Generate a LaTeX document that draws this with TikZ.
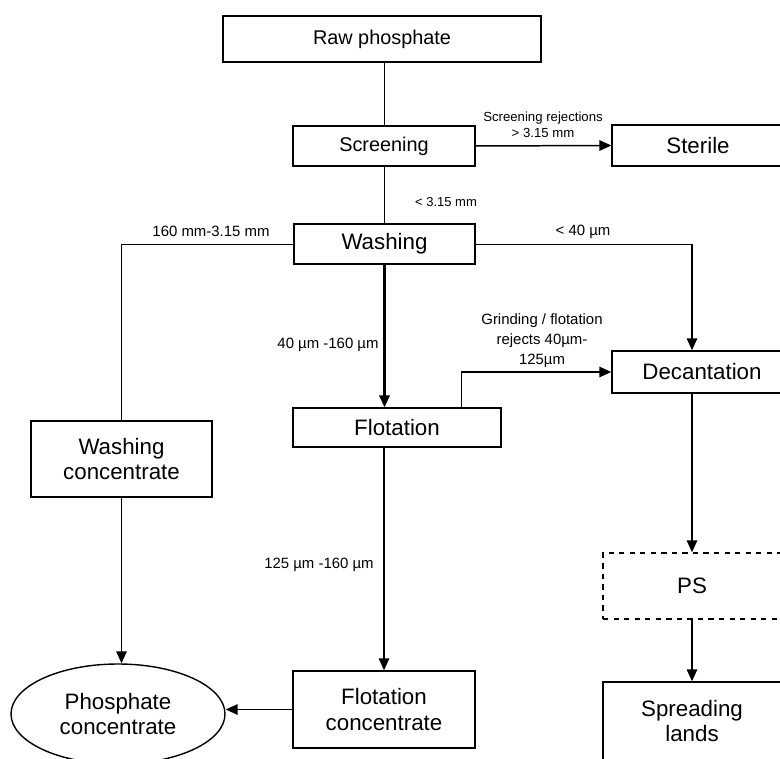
\documentclass[tikz,border=0pt]{standalone}
\usepackage{fontspec}
\setmainfont{Liberation Sans}
\usetikzlibrary{arrows.meta,shapes.geometric}
\begin{document}
\begin{tikzpicture}[
          b/.style={draw,line width=0.8pt,inner sep=0pt,align=center,font=\fontsize{12.7}{14.5}\selectfont},
          ln/.style={line width=0.5pt},
          arr/.style={-{Triangle[length=0.24cm,width=0.21cm]},line width=0.85pt},
          lab/.style={inner sep=0pt,align=center,font=\fontsize{8.5}{11.3}\selectfont}
          ]
          \clip (0,0) rectangle (15.6,15.16);
          \node[b,minimum width=6.36cm,minimum height=0.92cm,font=\fontsize{11.3}{13}\selectfont] (raw) at (7.64,14.38) {Raw phosphate};
          \node[b,minimum width=3.64cm,minimum height=0.8cm,font=\fontsize{11.3}{13}\selectfont] (scr) at (7.68,12.24) {Screening};
          \node[b,minimum width=3.44cm,minimum height=0.82cm] (ster) at (13.96,12.25) {Sterile};
          \node[b,minimum width=3.62cm,minimum height=0.8cm] (wash) at (7.69,10.28) {Washing};
          \node[b,minimum width=4.16cm,minimum height=0.78cm] (flot) at (7.94,6.61) {Flotation};
          \node[b,minimum width=3.62cm,minimum height=1.52cm] (wconc) at (2.43,5.98) {Washing\\concentrate};
          \node[b,minimum width=3.6cm,minimum height=0.84cm] (dec) at (14.04,7.72) {Decantation};
          \node[b,dashed,minimum width=3.56cm,minimum height=1.32cm] (ps) at (13.84,3.44) {PS};
          \node[b,minimum width=3.56cm,minimum height=1.56cm] (spr) at (13.84,0.74) {Spreading\\lands};
          \node[b,ellipse,minimum width=4.28cm,minimum height=2.0cm] (phos) at (2.36,0.88) {Phosphate\\concentrate};
          \node[b,minimum width=3.64cm,minimum height=1.54cm] (fconc) at (7.68,0.97) {Flotation\\concentrate};
          \node[lab,font=\fontsize{7.5}{9}\selectfont] (l1) at (10.86,12.66) {Screening rejections\\> 3.15 mm};
          \node[lab,font=\fontsize{7.4}{9}\selectfont] (l2) at (8.92,11.12) {< 3.15 mm};
          \node[lab] (l3) at (11.66,10.52) {< 40 µm};
          \node[lab] (l4) at (4.22,10.54) {160 mm-3.15 mm};
          \node[lab] (l5) at (6.56,8.26) {40 µm -160 µm};
          \node[lab] (l6) at (10.84,8.34) {Grinding / flotation\\rejects 40µm-\\125µm};
          \node[lab] (l7) at (6.38,3.86) {125 µm -160 µm};
          \coordinate (c1) at ([xshift=-0.2cm]wash.east -| dec.north);
          \draw[ln] (scr.north) -- (scr.north |- raw.south);
          \draw[arr] (scr.east) -- (ster.west);
          \draw[ln] (scr.south) -- (scr.south |- wash.north);
          \draw[arr,line width=1.2pt] (wash.south) -- (wash.south |- flot.north);
          \draw[ln] (wash.west) -| (wconc.north);
          \draw[ln] (wash.east) -- (c1);
          \draw[arr] (c1) -- (c1 |- dec.north);
          \draw[arr] ([xshift=-0.8cm]flot.north east) |- (dec.west);
          \draw[arr] (ps.north |- dec.south) -- (ps.north);
          \draw[arr] (ps.south) -- (spr.north);
          \draw[arr] (wconc.south) -- (wconc.south |- phos.north);
          \draw[arr] (fconc.north |- flot.south) -- (fconc.north);
          \draw[arr] (fconc.west) -- (fconc.west -| phos.east);
        \end{tikzpicture}
\end{document}
